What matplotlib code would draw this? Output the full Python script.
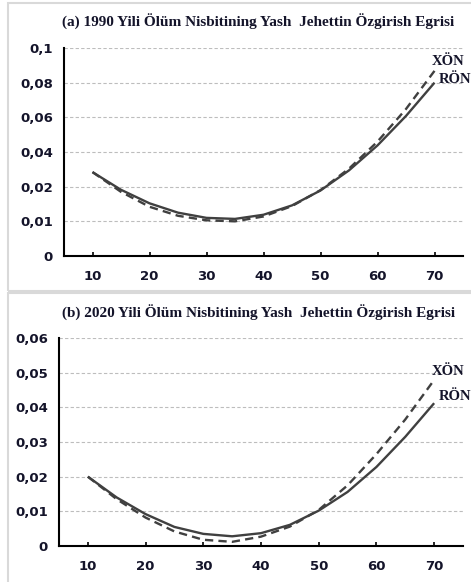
import numpy as np
import matplotlib.pyplot as plt
from matplotlib.patches import Rectangle

# ages (x)
ages = [10, 15, 20, 25, 30, 35, 40, 45, 50, 55, 60, 65, 70]

# (a) 1990
ron_1990 = [0.0284, 0.0191, 0.0152, 0.0125, 0.0110, 0.0107, 0.0119, 0.0146, 0.0189, 0.0294, 0.0438, 0.0608, 0.0800]
xon_1990 = [0.0284, 0.0185, 0.0142, 0.0116, 0.0103, 0.0100, 0.0114, 0.0144, 0.0190, 0.0304, 0.0460, 0.0648, 0.0868]

# (b) 2020
ron_2020 = [0.0200, 0.0140, 0.0092, 0.0055, 0.0035, 0.0028, 0.0037, 0.0061, 0.0102, 0.0156, 0.0228, 0.0315, 0.0412]
xon_2020 = [0.0200, 0.0135, 0.0082, 0.0042, 0.0018, 0.0012, 0.0027, 0.0056, 0.0104, 0.0175, 0.0265, 0.0365, 0.0479]

x_ticks = [10, 20, 30, 40, 50, 60, 70]
y_ticks_a = [0, 0.01, 0.02, 0.04, 0.06, 0.08, 0.1]
y_labels_a = ['0', '0,01', '0,02', '0,04', '0,06', '0,08', '0,1']
y_ticks_b = [0, 0.01, 0.02, 0.03, 0.04, 0.05, 0.06]
y_labels_b = ['0', '0,01', '0,02', '0,03', '0,04', '0,05', '0,06']

title_a = '(a) 1990 Yili Ölüm Nisbitining Yash  Jehettin Özgirish Egrisi'
title_b = '(b) 2020 Yili Ölüm Nisbitining Yash  Jehettin Özgirish Egrisi'

LINE = '#404040'
TXT = '#14142a'
W, H = 471, 582

fig = plt.figure(figsize=(W / 100, H / 100), dpi=100)

# panel frames
for y0, y1 in [(3, 291), (293, 600)]:
    fig.patches.append(Rectangle((8 / W, 1 - y1 / H), 1.0, (y1 - y0) / H,
                                 transform=fig.transFigure, fill=False,
                                 edgecolor='#d9d9d9', lw=1.5))

# the 1990 axis has equally spaced but uneven ticks
pos_a = np.arange(len(y_ticks_a))
def fwd(v):
    return np.interp(v, y_ticks_a, pos_a)
def inv(k):
    return np.interp(k, pos_a, y_ticks_a)

ax_a = fig.add_axes([64 / W, 1 - 256 / H, 399 / W, 208 / H])
ax_b = fig.add_axes([59 / W, 1 - 546 / H, 404 / W, 208 / H])
ax_a.set_yscale('function', functions=(fwd, inv))

panels = [
    (ax_a, ron_1990, xon_1990, y_ticks_a, y_labels_a, 0.1, title_a, 22, 7, 2),
    (ax_b, ron_2020, xon_2020, y_ticks_b, y_labels_b, 0.06, title_b, 313, 6, 5),
]

for ax, ron, xon, yt, yl, ytop, title, ty, dx_off, dr_off in panels:
    ax.plot(ages, ron, color=LINE, lw=1.7, solid_capstyle='butt')
    ax.plot(ages, xon, color=LINE, lw=1.7, ls=(0, (3.5, 2.2)))
    ax.set_xlim(5, 75)
    ax.set_ylim(0, ytop)
    ax.set_yticks(yt)
    ax.set_yticklabels(yl)
    ax.set_xticks(x_ticks)
    ax.tick_params(axis='y', length=0, pad=8, labelsize=9.5, labelcolor=TXT)
    ax.tick_params(axis='x', direction='in', length=3, width=1.2, pad=10,
                   labelsize=9.5, labelcolor=TXT)
    for lab in ax.get_xticklabels() + ax.get_yticklabels():
        lab.set_fontweight('bold')
    ax.grid(axis='y', color='#bdbdbd', ls=(0, (3, 2)), lw=0.8)
    ax.set_axisbelow(True)
    for s in ['top', 'right']:
        ax.spines[s].set_visible(False)
    for s in ['left', 'bottom']:
        ax.spines[s].set_linewidth(1.5)
        ax.spines[s].set_color('black')

    ax.annotate('XÖN', xy=(ages[-1], xon[-1]), xytext=(-2, dx_off), textcoords='offset points',
                fontsize=10.5, fontweight='bold', family='Liberation Serif', color=TXT,
                va='center', ha='left', annotation_clip=False)
    ax.annotate('RÖN', xy=(ages[-1], ron[-1]), xytext=(3, dr_off), textcoords='offset points',
                fontsize=10.5, fontweight='bold', family='Liberation Serif', color=TXT,
                va='center', ha='left', annotation_clip=False)

    fig.text(258 / W, 1 - ty / H, title, ha='center', va='center', fontsize=11,
             fontweight='bold', family='Liberation Serif', color=TXT)

fig.savefig('out.png', dpi=100)
